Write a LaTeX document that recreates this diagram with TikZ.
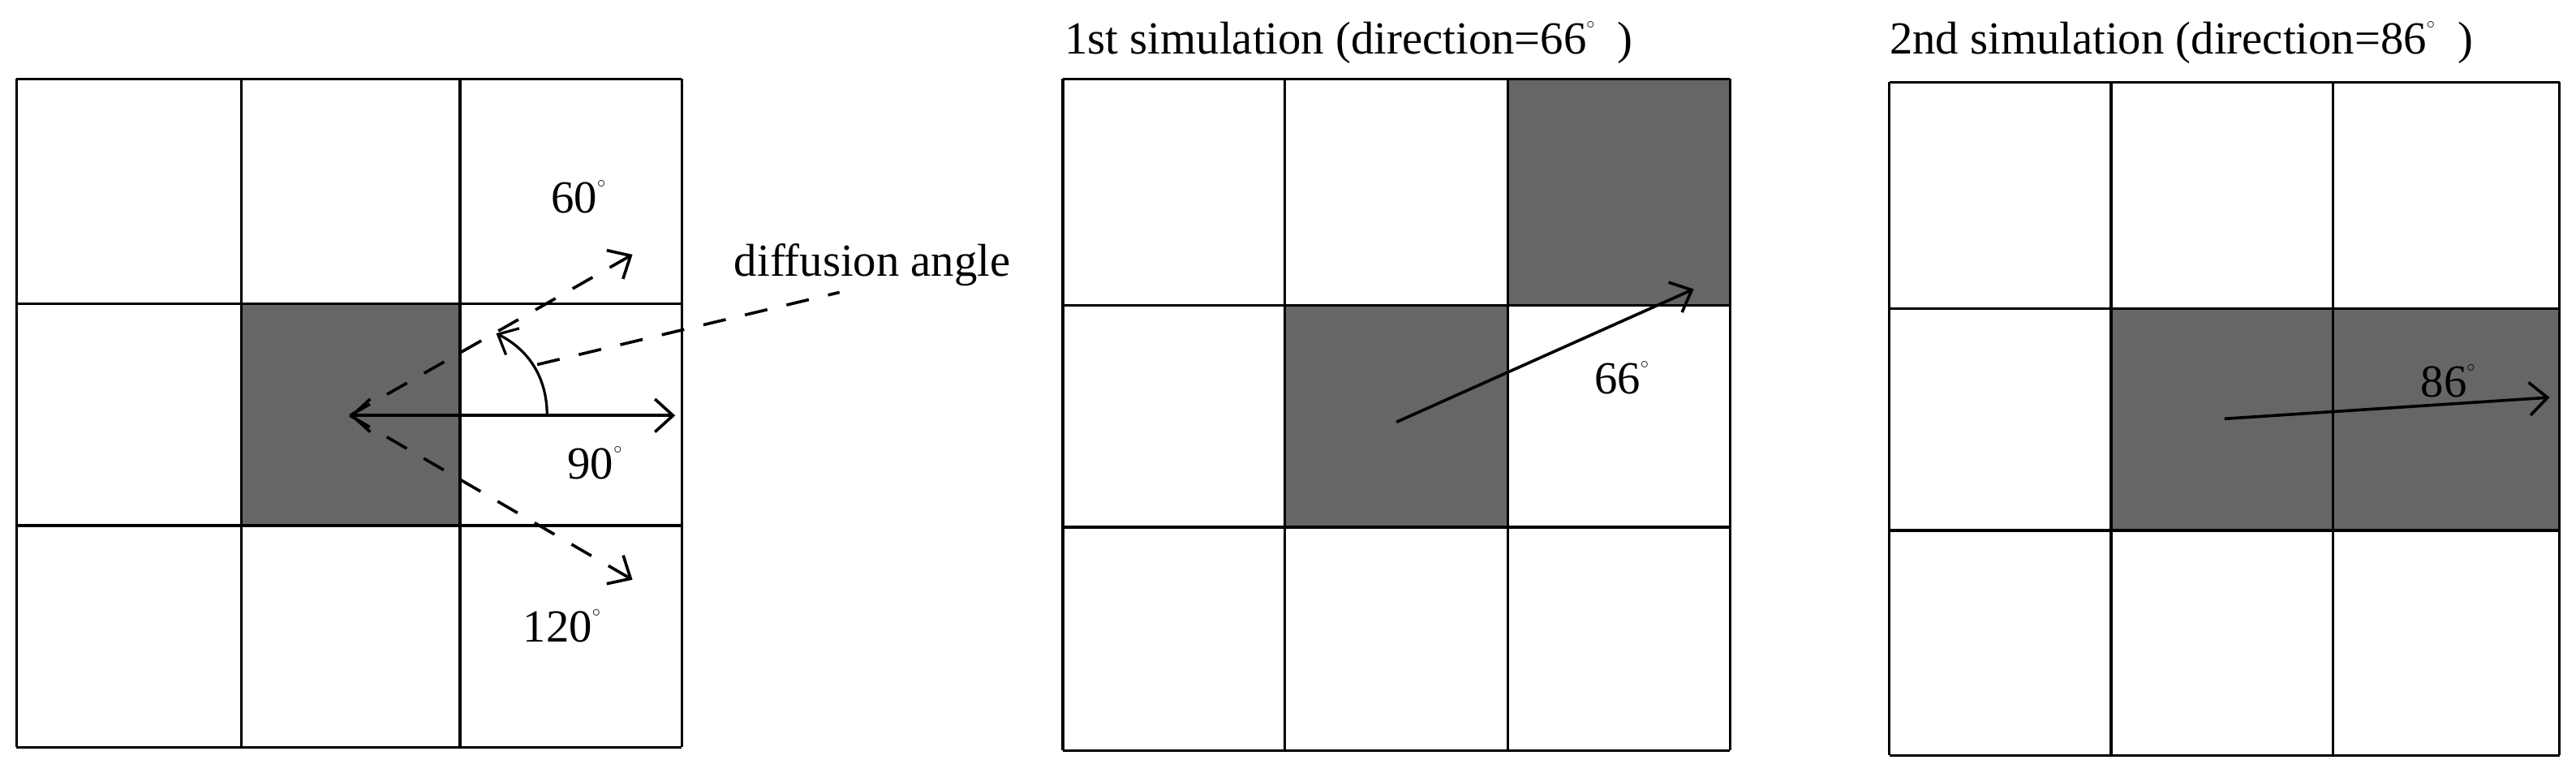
\documentclass[tikz,border=0pt]{standalone}
\usepackage{fontspec}
\setmainfont{Liberation Serif}
\usetikzlibrary{arrows.meta}
\tikzset{
  cellline/.style={line width=1.6pt},
  shade/.style={fill=black!60},
  arr/.style={line width=1.8pt,-{Straight Barb[length=11pt,width=20pt,line width=1.8pt]}},
  dsh/.style={line width=1.8pt,dash pattern=on 14pt off 12pt},
  lbl/.style={font=\fontsize{28}{30}\selectfont,inner sep=0pt},
}
\newcommand{\dg}{\raisebox{0.55em}{\fontsize{10}{10}\selectfont$\circ$}}
\begin{document}
\begin{tikzpicture}[x=1pt,y=-1pt]
\useasboundingbox (0,0) rectangle (1568,473);
% grid 1
\fill[shade] (147,185) rectangle (280,320);
\draw[cellline] (10,48) grid[xstep=1,ystep=1] (10,48);
\foreach \x in {10,147,280,415} \draw[cellline] (\x,48) -- (\x,455);
\foreach \y in {48,185,320,455} \draw[cellline] (10,\y) -- (415,\y);
% grid 2
\fill[shade] (782,186) rectangle (918,321);
\fill[shade] (918,48) rectangle (1053,186);
\foreach \x in {647,782,918,1053} \draw[cellline] (\x,48) -- (\x,457);
\foreach \y in {48,186,321,457} \draw[cellline] (647,\y) -- (1053,\y);
% grid 3
\fill[shade] (1285,188) rectangle (1558,323);
\foreach \x in {1150,1285,1420,1558} \draw[cellline] (\x,50) -- (\x,460);
\foreach \y in {50,188,323,460} \draw[cellline] (1150,\y) -- (1558,\y);

% grid 1 arrows
\coordinate (o) at (213,253);
\coordinate (e90) at (411,253);
\coordinate (e60) at (385,155);
\coordinate (e120) at (385,353);
\coordinate (a0) at (333,253);
\coordinate (a1) at (302,203);
\coordinate (l0) at (327,222);
\coordinate (l1) at (511,178);
\draw[line width=1.8pt,{Straight Barb[length=11pt,width=20pt,line width=1.8pt]}-{Straight Barb[length=11pt,width=20pt,line width=1.8pt]}] (o) -- (e90);
\draw[dsh,-{Straight Barb[length=11pt,width=20pt,line width=1.8pt]}] (o) -- (e60);
\draw[dsh,-{Straight Barb[length=11pt,width=20pt,line width=1.8pt]}] (o) -- (e120);
\draw[line width=1.6pt,-{Straight Barb[length=10pt,width=18pt,line width=1.6pt]}] (a0) .. controls (333,228) and (320,212) .. (a1);
\draw[dsh] (l0) -- (l1);
\node[lbl,anchor=base] (dif) at (531,168) {diffusion angle};
\node[lbl] (t60) at (352,120) {60\dg};
\node[lbl] (t90) at (362,282) {90\dg};
\node[lbl] (t120) at (342,381) {120\dg};

% grid 2 arrow
\coordinate (s2) at (850,257);
\coordinate (e2) at (1031,176);
\draw[arr] (s2) -- (e2);
\node[lbl] (t66) at (987,230) {66\dg};
\node[lbl,anchor=base west] (title1) at (648,33) {1st simulation~(direction=66\dg~~)};

% grid 3 arrow
\coordinate (s3) at (1354,255);
\coordinate (e3) at (1552,242);
\draw[arr] (s3) -- (e3);
\node[lbl] (t86) at (1490,232) {86\dg};
\node[lbl,anchor=base west] (title2) at (1150,33) {2nd simulation~(direction=86\dg~~)};
\end{tikzpicture}
\end{document}
